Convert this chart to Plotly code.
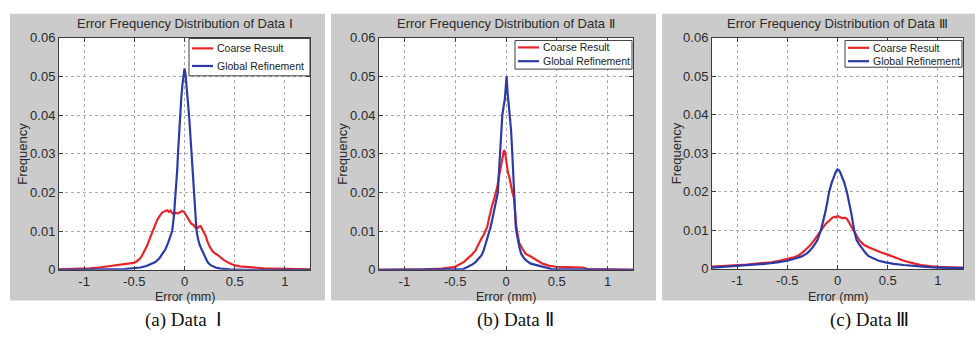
import plotly.graph_objects as go

# ---------------- data ----------------
d1_coarse_x = [-1.25, -1.1, -1.0, -0.94, -0.85, -0.74, -0.68, -0.61, -0.55, -0.507,
               -0.48, -0.457, -0.44, -0.423, -0.4, -0.373, -0.35, -0.323, -0.3, -0.273,
               -0.25, -0.223, -0.2, -0.173, -0.155, -0.14, -0.125, -0.107, -0.09, -0.067,
               -0.045, -0.023, -0.005, 0.01, 0.025, 0.043, 0.065, 0.093, 0.11, 0.127,
               0.145, 0.16, 0.175, 0.193, 0.21, 0.227, 0.25, 0.277, 0.3, 0.327,
               0.36, 0.393, 0.44, 0.493, 0.55, 0.627, 0.7, 0.79, 0.9, 1.06,
               1.15, 1.25]
d1_coarse_y = [0.0001, 0.0002, 0.0003, 0.0004, 0.0006, 0.001, 0.0012, 0.0015, 0.0016, 0.0018,
               0.0021, 0.0026, 0.003, 0.0037, 0.0048, 0.0062, 0.0078, 0.0095, 0.0112, 0.0128,
               0.0138, 0.0148, 0.0151, 0.0154, 0.0150, 0.0153, 0.0147, 0.0144, 0.0147, 0.0146,
               0.0149, 0.0152, 0.0150, 0.0144, 0.0137, 0.0128, 0.0120, 0.0115, 0.0109, 0.0107,
               0.0112, 0.0113, 0.0106, 0.0099, 0.0088, 0.0074, 0.0060, 0.0049, 0.0043, 0.0039,
               0.0032, 0.0025, 0.0018, 0.0012, 0.0009, 0.0007, 0.0006, 0.0004, 0.0003, 0.0002,
               0.0001, 0.0001]
d1_global_x = [-1.25, -1.0, -0.8, -0.6, -0.5, -0.44, -0.38, -0.33, -0.29, -0.25,
               -0.22, -0.19, -0.16, -0.14, -0.123, -0.105, -0.085, -0.072, -0.065, -0.055,
               -0.045, -0.032, -0.02, -0.01, 0.0, 0.01, 0.02, 0.032, 0.045, 0.058,
               0.07, 0.08, 0.09, 0.105, 0.12, 0.135, 0.15, 0.17, 0.185, 0.2,
               0.215, 0.23, 0.26, 0.31, 0.36, 0.45, 0.6, 0.8, 1.0, 1.25]
d1_global_y = [0.0, 0.0, 0.0001, 0.0002, 0.0004, 0.0006, 0.001, 0.0015, 0.002, 0.003,
               0.004, 0.0053, 0.0072, 0.0087, 0.01, 0.014, 0.02, 0.026, 0.03, 0.035,
               0.04, 0.0445, 0.048, 0.0505, 0.052, 0.0505, 0.048, 0.0445, 0.04, 0.035,
               0.03, 0.024, 0.02, 0.015, 0.01, 0.008, 0.0065, 0.0053, 0.0045, 0.0035,
               0.003, 0.002, 0.0012, 0.0006, 0.0003, 0.0001, 0.0, 0.0, 0.0, 0.0]

d2_coarse_x = [-1.25, -1.0, -0.8, -0.63, -0.55, -0.5, -0.45, -0.41, -0.38, -0.34,
               -0.3, -0.267, -0.24, -0.22, -0.2, -0.185, -0.165, -0.152, -0.135, -0.12,
               -0.1, -0.085, -0.07, -0.055, -0.045, -0.032, -0.02, -0.01, 0.0, 0.01,
               0.02, 0.03, 0.045, 0.063, 0.079, 0.083, 0.089, 0.102, 0.115, 0.129,
               0.16, 0.195, 0.24, 0.277, 0.32, 0.36, 0.42, 0.49, 0.6, 0.756,
               0.8, 1.0, 1.25]
d2_coarse_y = [0.0, 0.0, 0.0001, 0.0003, 0.0005, 0.0008, 0.0015, 0.0021, 0.0029, 0.0038,
               0.005, 0.007, 0.0082, 0.009, 0.0102, 0.0111, 0.0135, 0.0152, 0.0168, 0.018,
               0.02, 0.0215, 0.024, 0.026, 0.0276, 0.029, 0.0309, 0.0305, 0.0285, 0.027,
               0.025, 0.0243, 0.022, 0.02, 0.0185, 0.0165, 0.0152, 0.0111, 0.0085, 0.007,
               0.0055, 0.0041, 0.0035, 0.0029, 0.0022, 0.0016, 0.0011, 0.0008, 0.0007, 0.0006,
               0.0002, 0.0001, 0.0]
d2_global_x = [-1.25, -1.0, -0.6, -0.42, -0.366, -0.33, -0.3, -0.267, -0.24, -0.22,
               -0.195, -0.17, -0.152, -0.135, -0.119, -0.1, -0.08, -0.07, -0.06, -0.05,
               -0.036, -0.022, -0.012, 0.0, 0.006, 0.015, 0.025, 0.037, 0.05, 0.062,
               0.07, 0.08, 0.089, 0.096, 0.108, 0.12, 0.135, 0.15, 0.18, 0.21,
               0.244, 0.3, 0.36, 0.45, 0.6, 1.0, 1.25]
d2_global_y = [0.0, 0.0, 0.0001, 0.0002, 0.0008, 0.0014, 0.002, 0.0029, 0.0038, 0.005,
               0.007, 0.0092, 0.011, 0.013, 0.0152, 0.0175, 0.02, 0.025, 0.03, 0.036,
               0.04, 0.0425, 0.044, 0.048, 0.05, 0.046, 0.043, 0.04, 0.036, 0.03,
               0.025, 0.02, 0.0152, 0.0111, 0.009, 0.007, 0.0055, 0.0041, 0.0029, 0.0022,
               0.0016, 0.0012, 0.0008, 0.0002, 0.0001, 0.0, 0.0]

d3_coarse_x = [-1.25, -1.16, -1.0, -0.9, -0.83, -0.75, -0.66, -0.58, -0.5, -0.45,
               -0.4, -0.35, -0.3, -0.265, -0.23, -0.2, -0.166, -0.14, -0.116, -0.09,
               -0.066, -0.05, -0.033, -0.015, 0.0, 0.015, 0.033, 0.05, 0.073, 0.088,
               0.1, 0.115, 0.13, 0.145, 0.166, 0.19, 0.215, 0.24, 0.265, 0.31,
               0.364, 0.43, 0.5, 0.58, 0.66, 0.75, 0.83, 0.92, 1.0, 1.12,
               1.25]
d3_coarse_y = [0.0006, 0.0007, 0.001, 0.0011, 0.0013, 0.0015, 0.0017, 0.0021, 0.0025, 0.0029,
               0.0033, 0.0042, 0.0054, 0.0063, 0.0075, 0.0087, 0.01, 0.0109, 0.0117, 0.0124,
               0.0129, 0.0133, 0.0135, 0.0134, 0.0137, 0.0135, 0.0132, 0.0131, 0.0133, 0.0131,
               0.0127, 0.012, 0.0112, 0.0104, 0.0096, 0.0086, 0.0075, 0.0068, 0.0062, 0.0056,
               0.005, 0.0043, 0.0037, 0.0029, 0.0021, 0.0015, 0.001, 0.0007, 0.0005, 0.0004,
               0.0003]
d3_global_x = [-1.25, -1.0, -0.85, -0.73, -0.6, -0.5, -0.42, -0.35, -0.3, -0.265,
               -0.23, -0.2, -0.166, -0.145, -0.126, -0.106, -0.083, -0.056, -0.033, -0.015,
               0.0, 0.01, 0.025, 0.043, 0.066, 0.093, 0.122, 0.139, 0.166, 0.19,
               0.22, 0.25, 0.28, 0.31, 0.36, 0.41, 0.48, 0.56, 0.66, 0.76,
               0.88, 1.0, 1.25]
d3_global_y = [0.0003, 0.0007, 0.001, 0.0013, 0.0017, 0.0021, 0.0027, 0.0033, 0.0041, 0.005,
               0.0062, 0.0075, 0.01, 0.012, 0.0142, 0.0167, 0.02, 0.0225, 0.0242, 0.0253,
               0.0258, 0.0257, 0.0252, 0.0242, 0.0225, 0.02, 0.0167, 0.0142, 0.01, 0.0075,
               0.0062, 0.005, 0.0041, 0.0033, 0.0027, 0.0021, 0.0017, 0.0013, 0.001, 0.0007,
               0.0005, 0.0003, 0.0002]

x_tick_vals = [-1, -0.5, 0, 0.5, 1]
x_tick_text = ["-1", "-0.5", "0", "0.5", "1"]
y_tick_vals = [0, 0.01, 0.02, 0.03, 0.04, 0.05, 0.06]
y_tick_text = ["0", "0.01", "0.02", "0.03", "0.04", "0.05", "0.06"]

series_names = ["Coarse Result", "Global Refinement"]
panel_titles = ["Error Frequency Distribution of Data \u2160",
                "Error Frequency Distribution of Data \u2161",
                "Error Frequency Distribution of Data \u2162"]
captions = ["(a) Data  \u2160", "(b) Data \u2161", "(c) Data \u2162"]
x_label = "Error (mm)"
y_label = "Frequency"

# ---------------- styling / layout ----------------
W, H = 979, 339
RED = "#e8262a"
BLUE = "#2c3aa8"
GRAY = "#cbcbcb"
SANS = "Liberation Sans, Arial, sans-serif"
SERIF = "Liberation Serif, Times New Roman, serif"


def px(x):
    return x / W


def py(y):
    return 1 - y / H


# pixel boxes of the three plot areas and grey panels
plot_boxes = [(59, 310, 32, 275), (379, 633, 32, 275), (712, 963, 32, 274)]
panel_boxes = [(10, 325, 7, 307), (331, 656, 7, 307), (662, 975, 7, 307)]
caption_x = [183, 515, 869]
legend_boxes = [(189, 310, 33, 72, 43.3, 61.7), (515, 632, 35, 65, 42.3, 56.7),
                (845, 962, 35, 63, 42.7, 56.7)]

data = [(d1_coarse_x, d1_coarse_y, d1_global_x, d1_global_y),
        (d2_coarse_x, d2_coarse_y, d2_global_x, d2_global_y),
        (d3_coarse_x, d3_coarse_y, d3_global_x, d3_global_y)]

fig = go.Figure()
shapes = []
annotations = []

# grey panels first
for (x0, x1, y0, y1) in panel_boxes:
    shapes.append(dict(type="rect", xref="paper", yref="paper",
                       x0=px(x0), x1=px(x1), y0=py(y1), y1=py(y0),
                       fillcolor=GRAY, line=dict(width=0), layer="below"))

for i in range(3):
    sfx = "" if i == 0 else str(i + 1)
    cx, cy, gx, gy = data[i]
    fig.add_trace(go.Scatter(x=cx, y=cy, mode="lines", name=series_names[0],
                             line=dict(color=RED, width=2.2), showlegend=False,
                             xaxis="x" + sfx, yaxis="y" + sfx))
    fig.add_trace(go.Scatter(x=gx, y=gy, mode="lines", name=series_names[1],
                             line=dict(color=BLUE, width=2.2), showlegend=False,
                             xaxis="x" + sfx, yaxis="y" + sfx))

    l, r, t, b = plot_boxes[i]
    common = dict(showgrid=True, gridcolor="#a8a8a8", griddash="dot", gridwidth=1,
                  showline=True, linecolor="#3c3c3c", linewidth=1, mirror="ticks",
                  ticks="inside", ticklen=4, tickcolor="#3c3c3c", zeroline=False,
                  tickfont=dict(family=SANS, size=13, color="#2a2a2a"), fixedrange=True)
    fig.update_layout(**{
        "xaxis" + sfx: dict(domain=[px(l), px(r)], anchor="y" + sfx, range=[-1.25, 1.25],
                            tickvals=x_tick_vals, ticktext=x_tick_text, **common),
        "yaxis" + sfx: dict(domain=[py(b), py(t)], anchor="x" + sfx, range=[0, 0.06],
                            tickvals=y_tick_vals, ticktext=y_tick_text, **common),
    })

    # white plot area over the grey panel
    shapes.append(dict(type="rect", xref="x" + sfx + " domain", yref="y" + sfx + " domain",
                       x0=0, x1=1, y0=0, y1=1, fillcolor="white",
                       line=dict(width=0), layer="below"))

    # titles
    annotations.append(dict(text=panel_titles[i], xref="paper", yref="paper",
                            x=px((l + r) / 2), y=py(17), showarrow=False,
                            xanchor="center", yanchor="middle",
                            font=dict(family=SANS, size=13, color="#2a2a2a")))
    annotations.append(dict(text=x_label, xref="paper", yref="paper",
                            x=px((l + r) / 2), y=py(303), showarrow=False,
                            xanchor="center", yanchor="middle", borderpad=0,
                            font=dict(family=SANS, size=12.5, color="#2a2a2a")))
    annotations.append(dict(text=y_label, xref="paper", yref="paper",
                            x=px(l - 36), y=py((t + b) / 2), showarrow=False,
                            textangle=-90, xanchor="center", yanchor="middle",
                            font=dict(family=SANS, size=13, color="#2a2a2a")))
    annotations.append(dict(text=captions[i], xref="paper", yref="paper",
                            x=px(caption_x[i]), y=py(327), showarrow=False,
                            xanchor="center", yanchor="middle",
                            font=dict(family=SERIF, size=19, color="#111111")))

    # legend box
    lx0, lx1, ly0, ly1, r1, r2 = legend_boxes[i]
    shapes.append(dict(type="rect", xref="paper", yref="paper",
                       x0=px(lx0), x1=px(lx1), y0=py(ly1), y1=py(ly0),
                       fillcolor="white", line=dict(color="#3c3c3c", width=1)))
    for row_y, color, name in [(r1, RED, series_names[0]), (r2, BLUE, series_names[1])]:
        shapes.append(dict(type="line", xref="paper", yref="paper",
                           x0=px(lx0 + 3), x1=px(lx0 + 24), y0=py(row_y), y1=py(row_y),
                           line=dict(color=color, width=2.2)))
        annotations.append(dict(text=name, xref="paper", yref="paper",
                                x=px(lx0 + 26), y=py(row_y), showarrow=False,
                                xanchor="left", yanchor="middle",
                                font=dict(family=SANS, size=10.5, color="#222222")))

fig.update_layout(width=W, height=H, autosize=False,
                  margin=dict(l=0, r=0, t=0, b=0, pad=0),
                  paper_bgcolor="white", plot_bgcolor="white",
                  shapes=shapes, annotations=annotations, showlegend=False)

fig.write_html("out.html", config={"displayModeBar": False},
               post_script="document.body.style.margin='0';")
